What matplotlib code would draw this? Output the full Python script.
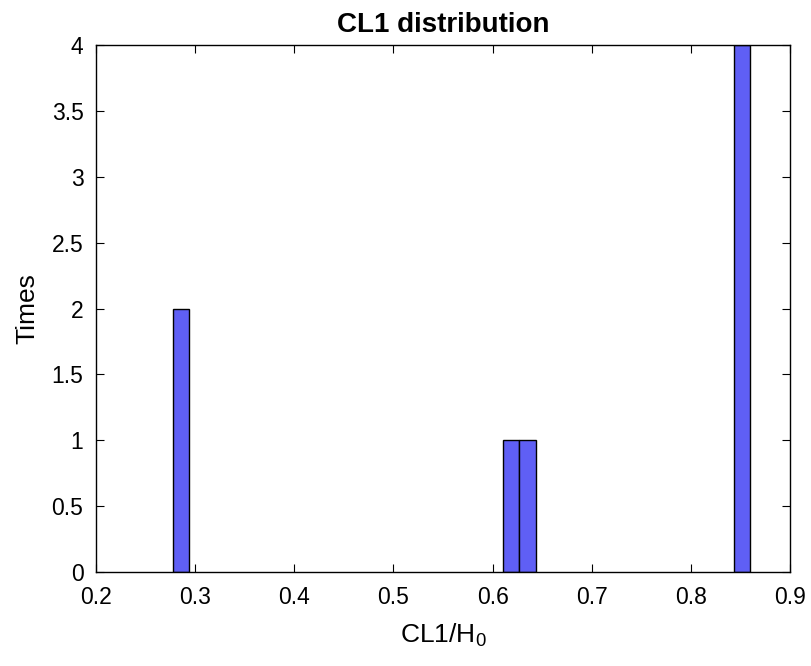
import matplotlib
matplotlib.use("Agg")
import matplotlib.pyplot as plt
from matplotlib.ticker import FuncFormatter

# Data: histogram bins (left edges), counts, common bin width
bin_left = [0.2774, 0.6104, 0.6271, 0.8435]
counts = [2, 1, 1, 4]
bin_width = 0.01665

x_ticks = [0.2, 0.3, 0.4, 0.5, 0.6, 0.7, 0.8, 0.9]
y_ticks = [0, 0.5, 1, 1.5, 2, 2.5, 3, 3.5, 4]

plt.rcParams['font.family'] = ['Liberation Sans', 'DejaVu Sans']
plt.rcParams['mathtext.fontset'] = 'custom'
plt.rcParams['mathtext.rm'] = 'Liberation Sans'
plt.rcParams['mathtext.it'] = 'Liberation Sans'

fig = plt.figure(figsize=(8.11, 6.66), dpi=100)
ax = fig.add_axes([96/811, 1-572/666, (790-96)/811, (572-45)/666])

ax.bar(bin_left, counts, width=bin_width, align='edge',
       color='#5f5ff5', edgecolor='black', linewidth=1.0)

ax.set_xlim(0.2, 0.9)
ax.set_ylim(0, 4)
ax.set_xticks(x_ticks)
ax.set_yticks(y_ticks)
fmt = FuncFormatter(lambda v, p: f"{v:g}")
ax.xaxis.set_major_formatter(fmt)
ax.yaxis.set_major_formatter(fmt)

ax.tick_params(direction='in', length=6, width=0.8, top=True, right=True,
               labelsize=16.5, colors='black')
ax.tick_params(axis='x', pad=10)
ax.tick_params(axis='y', pad=9)
for s in ax.spines.values():
    s.set_linewidth(1.0)

ax.set_title('CL1 distribution', fontsize=20, fontweight='bold', pad=9)
ax.set_xlabel('CL1/H$_{0}$', fontsize=19, labelpad=9)
ax.set_ylabel('Times', fontsize=19, labelpad=9)

fig.savefig('out.png', dpi=100)
